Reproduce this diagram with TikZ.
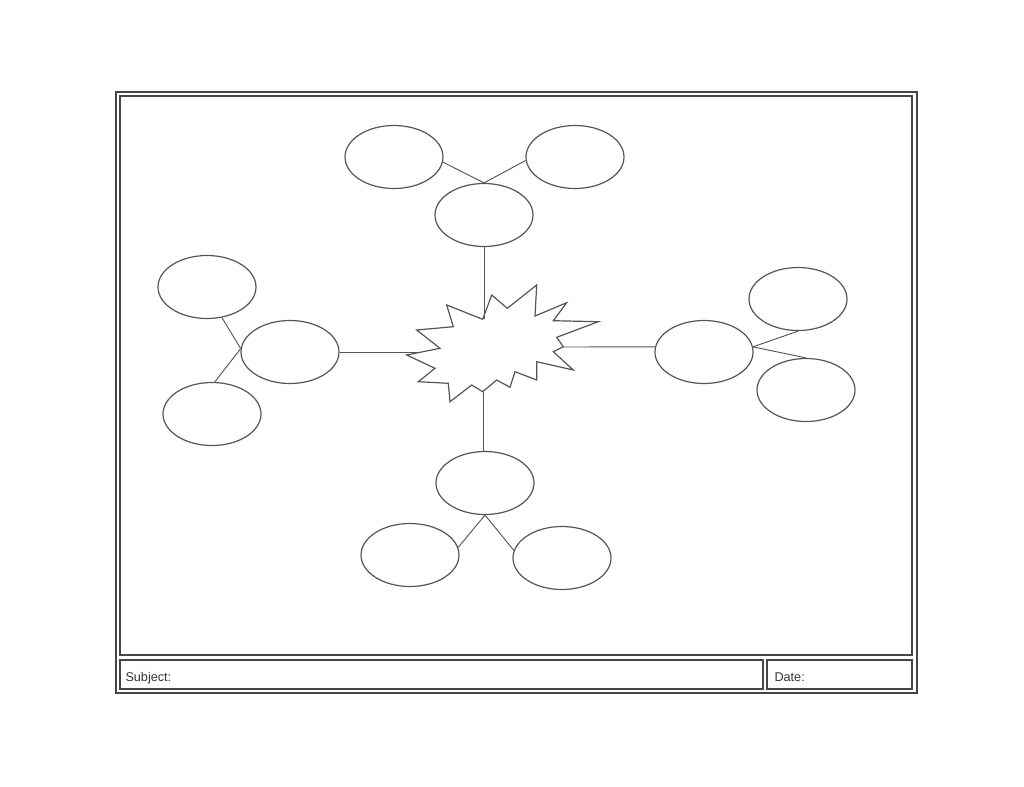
\documentclass[tikz,border=0pt]{standalone}
\usepackage{fontspec}
\setmainfont{Liberation Sans}
\usetikzlibrary{shapes.geometric}

\definecolor{framegray}{RGB}{70,70,70}
\definecolor{linegray}{RGB}{85,85,85}

\tikzset{every picture/.style={line width=0.75pt}}
\tikzset{
  bubble/.style={draw=linegray, ellipse, line width=0.9pt, minimum width=98*0.75pt, minimum height=63*0.75pt, inner sep=0pt},
  spoke/.style={draw=linegray, line width=0.7pt},
  frameline/.style={draw=framegray, line width=1.6pt},
  fieldlabel/.style={anchor=base west, inner sep=0.75pt, font=\fontsize{9.5}{11}\selectfont, text=black!80}
}

\begin{document}
\begin{tikzpicture}[x=0.75pt,y=0.75pt,yscale=-1,xscale=1]
\useasboundingbox (0,0) rectangle (1024,786);
%Shape: Frame
\draw [frameline] (116,92) rectangle (917,693);
\draw [frameline] (120,96) rectangle (912,655);
\draw [frameline] (120,660) rectangle (763,689);
\draw [frameline] (767,660) rectangle (912,689);
% Text Node
\node [fieldlabel] (subject) at (124,681) {Subject:};
% Text Node
\node [fieldlabel] (date) at (773,681) {Date:};
%Shape: Explosion
\draw [linegray, line width=0.9pt] (482.7,319.3) -- (491.7,295) -- (507.3,308.3) -- (536.7,285) -- (535,316) -- (566.7,302.7) -- (553.3,320.7) -- (598.3,321.7) -- (556.7,337.3) -- (563.3,346.7) -- (553.3,351.7) -- (573.3,370) -- (536.7,361.7) -- (536.7,380) -- (515,371.7) -- (510,387.3) -- (496.7,380) -- (482.7,391.7) -- (471.7,385) -- (450,401.7) -- (448.3,383.3) -- (418.3,381.7) -- (435,368.3) -- (406.7,355) -- (440,348.3) -- (416.7,330) -- (453.3,326.7) -- (446.7,305) -- cycle;
\coordinate (starN) at (483.5,319.3);
\coordinate (starS) at (483,391.7);
\coordinate (starW) at (420,352);
\coordinate (starE) at (563,347);
%Shape: Ellipse (top)
\node [bubble] (tm) at (484,215) {};
\node [bubble] (tl) at (394,157) {};
\node [bubble] (tr) at (575,157) {};
%Shape: Ellipse (left)
\node [bubble] (ml) at (290,352) {};
\node [bubble] (ul) at (207,287) {};
\node [bubble] (ll) at (212,414) {};
%Shape: Ellipse (right)
\node [bubble] (mr) at (704,352) {};
\node [bubble] (ur) at (798,299) {};
\node [bubble] (lr) at (806,390) {};
%Shape: Ellipse (bottom)
\node [bubble] (bm) at (485,483) {};
\node [bubble] (bl) at (410,555) {};
\node [bubble] (br) at (562,558) {};
%Straight Lines
\draw [spoke] (tm.south) -- (tm.south |- starN);
\draw [spoke] (tl.-6) -- (tm.north);
\draw [spoke] (tr.184) -- (tm.north);
\draw [spoke] (ml.east) -- (starW);
\draw [spoke] (ul.-64) -- (ml.176);
\draw [spoke] (ll.85) -- (ml.176);
\draw [spoke] (starE) -- (mr.174);
\draw [spoke] (ur.south) -- (mr.6);
\draw [spoke] (lr.north) -- (mr.6);
\draw [spoke] (starS) -- (starS |- bm.north);
\draw [spoke] (bm.south) -- (bl.9);
\draw [spoke] (bm.south) -- (br.171);
\end{tikzpicture}
\end{document}
